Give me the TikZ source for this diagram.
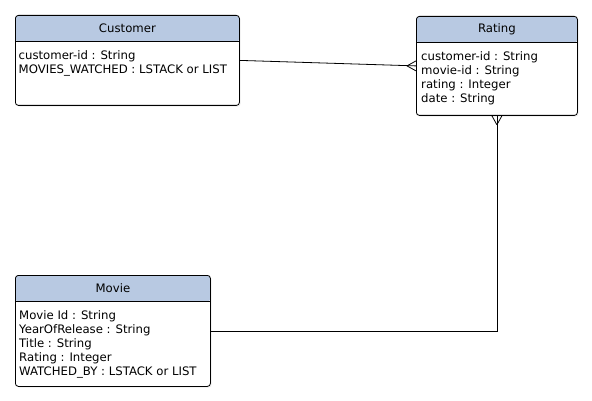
\documentclass[tikz,border=0pt]{standalone}
\usepackage{fontspec}
\setmainfont{DejaVu Sans}
\usetikzlibrary{positioning, shadows}
\definecolor{kopfblau}{RGB}{184,201,226}
\tikzset{
  entitaet/.style={draw, rounded corners=3pt, fill=white, inner sep=0pt, line width=0.8pt,
    drop shadow={shadow xshift=1.2pt, shadow yshift=-1.2pt, opacity=0.15},
    path picture={
      \fill[kopfblau] (path picture bounding box.north west) rectangle ([yshift=-26pt]path picture bounding box.north east);
      \draw[line width=0.8pt] ([yshift=-26pt]path picture bounding box.north west) -- ([yshift=-26pt]path picture bounding box.north east);
    }},
  kopf/.style={inner sep=0pt, font=\fontsize{11.7}{14}\selectfont},
  felder/.style={inner sep=0pt, align=left, anchor=north west, font=\fontsize{11.7}{14}\selectfont},
  linie/.style={line width=0.8pt},
}
\begin{document}
\begin{tikzpicture}[x=1pt, y=-1pt]
    \useasboundingbox (0,0) rectangle (592,401);
    % Entitaeten
    \node[entitaet, anchor=north west, minimum width=224pt, minimum height=90pt] (cust) at (15,15) {};
    \node[kopf] (custname) at ([yshift=-13pt]cust.north) {Customer};
    \node[felder] (custfelder) at ([shift={(3.5pt,-35.5pt)}]cust.north west) {customer-id : String\\ MOVIES\_WATCHED : LSTACK or LIST};

    \node[entitaet, anchor=north west, minimum width=161pt, minimum height=99pt] (rating) at (416,16) {};
    \node[kopf] (ratingname) at ([yshift=-13pt]rating.north) {Rating};
    \node[felder] (ratingfelder) at ([shift={(5pt,-35.5pt)}]rating.north west) {customer-id : String\\ movie-id : String\\ rating : Integer\\ date : String};

    \node[entitaet, anchor=north west, minimum width=195pt, minimum height=111pt] (movie) at (15,275) {};
    \node[kopf] (moviename) at ([yshift=-13.5pt]movie.north) {Movie};
    \node[felder] (moviefelder) at ([shift={(4pt,-35pt)}]movie.north west) {Movie Id : String\\ YearOfRelease : String\\ Title : String\\ Rating : Integer\\ WATCHED\_BY : LSTACK or LIST};

    % Beziehungen
    \draw[linie] (cust.east) -- (rating.west);
    \draw[linie] ([xshift=-9pt]rating.west) -- ([yshift=5pt]rating.west)
                 ([xshift=-9pt]rating.west) -- ([yshift=-5pt]rating.west);
    \draw[linie] (movie.east) -| (rating.south);
    \draw[linie] ([yshift=-9pt]rating.south) -- ([xshift=-5pt]rating.south)
                 ([yshift=-9pt]rating.south) -- ([xshift=5pt]rating.south);
  \end{tikzpicture}
\end{document}
